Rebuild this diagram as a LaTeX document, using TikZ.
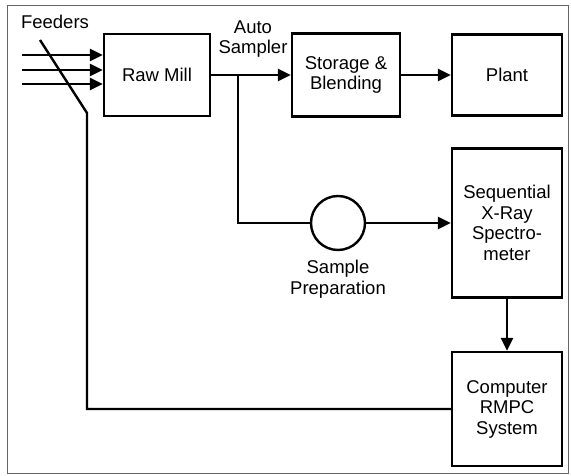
\documentclass[tikz,border=0pt]{standalone}
\usepackage{fontspec}
\setmainfont{Liberation Sans}
\usetikzlibrary{arrows.meta,positioning,calc}

\begin{document}
\begin{tikzpicture}[x=1pt,y=-1pt,
  unit/.style={draw,line width=2.4pt,minimum width=108pt,align=center,
    font=\fontsize{18.5}{20.5}\selectfont},
  prep/.style={draw,circle,line width=2.4pt,minimum size=54pt,inner sep=0pt},
  flow/.style={-{Triangle[length=13pt,width=12pt]},line width=2.4pt},
  wire/.style={line width=2.4pt},
  lbl/.style={font=\fontsize{18.5}{20.5}\selectfont,align=center,inner sep=1pt}]
\useasboundingbox (0,0) rectangle (571,476);
\draw[black!60,line width=0.8pt] (7,5) rectangle (568,473);
\node[unit,minimum width=106pt,minimum height=82pt] (mill) at (157,75) {Raw Mill};
\node[unit,minimum height=83pt] (store) at (346,75) {Storage \&\\Blending};
\node[unit,minimum width=110pt,minimum height=81pt] (plant) at (507,75) {Plant};
\node[unit,minimum width=110pt,minimum height=149pt] (spec) at (507,223)
  {Sequential\\X-Ray\\Spectro-\\meter};
\node[unit,minimum width=110pt,minimum height=114pt] (rmpc) at (507,409)
  {Computer\\RMPC\\System};
\node[prep] (sp) at (338,223) {};
\node[lbl] (feed) at (55,22) {Feeders};
\node[lbl] (auto) at (253,39) {Auto\\Sampler};
\node[lbl,below=8pt of sp] (splbl) {Sample\\Preparation};
\coordinate (f1) at (22,55);
\coordinate (f2) at (22,70);
\coordinate (f3) at (22,84);
\coordinate (tap) at (238,75);
\coordinate (fb) at (87,113);
\coordinate (fbtop) at (40,40);
\draw[flow] (f1) -- (f1 -| mill.west);
\draw[flow] (f2) -- (f2 -| mill.west);
\draw[flow] (f3) -- (f3 -| mill.west);
\draw[flow] (mill) -- (store);
\draw[flow] (store) -- (plant);
\draw[wire] (tap) |- (sp);
\draw[flow] (sp) -- (spec);
\draw[flow] (spec) -- (rmpc);
\draw[wire] (rmpc.west) -| (fb) -- (fbtop);
\end{tikzpicture}
\end{document}
